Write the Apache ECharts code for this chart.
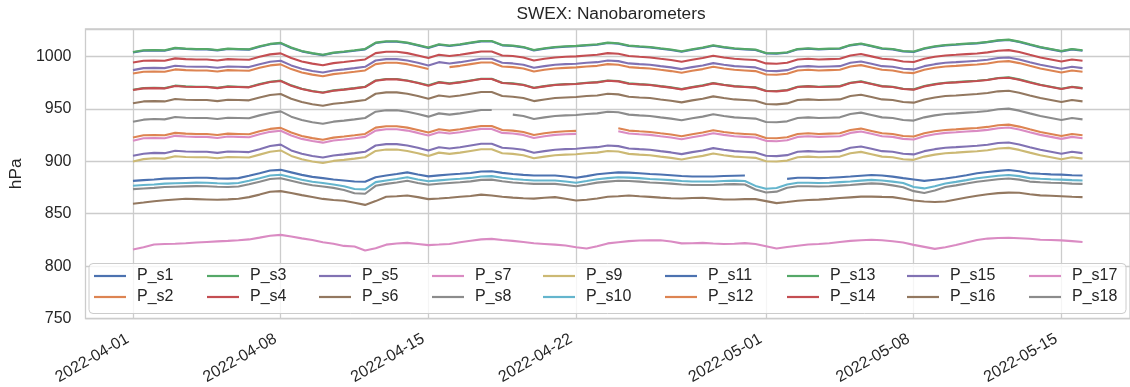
<!DOCTYPE html>
<html>
<head>
<meta charset="utf-8">
<script src="https://cdn.jsdelivr.net/npm/echarts@6/dist/echarts.min.js"></script>
<style>
html,body{margin:0;padding:0;background:#fff;}
#chart{width:1130px;height:387px;}
</style>
</head>
<body>
<div id="chart"></div>
<script>
// ---- DATA (12-hourly samples, starting 2022-04-01 00:00 UTC) ----
const startDate = '2022-04-01';
const sampleHours = 12;
const xTickLabels = ['2022-04-01','2022-04-08','2022-04-15','2022-04-22','2022-05-01','2022-05-08','2022-05-15'];
const yTickValues = [750, 800, 850, 900, 950, 1000];
const seriesNames = ['P_s1','P_s2','P_s3','P_s4','P_s5','P_s6','P_s7','P_s8','P_s9','P_s10','P_s11','P_s12','P_s13','P_s14','P_s15','P_s16','P_s17','P_s18'];

const P_s1 = [881.3,882.0,882.6,883.4,883.7,884.0,884.3,884.2,883.7,883.4,
 883.9,886.1,888.5,891.1,891.8,889.4,887.0,885.1,883.9,882.6,
 881.7,880.7,880.4,884.8,886.4,887.8,889.4,887.3,885.6,886.5,
 887.3,888.0,888.8,890.2,890.5,888.9,887.8,887.0,886.4,886.4,
 886.4,885.4,884.2,885.8,887.6,888.6,889.4,889.1,888.6,887.8,
 887.3,886.7,885.9,885.4,885.4,885.4,885.9,886.2,886.4,null,
 null,null,883.2,884.2,884.2,883.9,884.2,884.8,885.4,886.2,
 886.9,886.4,885.3,883.9,882.6,881.3,882.4,883.5,885.0,886.7,
 888.5,889.7,890.8,891.6,890.5,888.6,888.0,887.5,887.2,886.7,
 886.4];
const P_s2 = [983.6,985.2,985.5,985.2,987.5,986.8,986.5,986.5,985.5,986.8,
 986.5,986.2,989.0,991.3,992.3,987.8,984.6,982.5,981.0,983.0,
 984.0,985.2,986.5,992.5,993.8,993.8,992.5,990.3,987.8,null,
 989.7,990.9,992.5,994.1,994.1,990.3,989.7,988.4,985.5,987.1,
 988.4,989.0,989.4,990.3,990.9,992.5,991.9,989.7,989.0,988.4,
 987.1,985.9,984.3,986.2,987.8,990.0,988.4,987.1,986.5,985.9,
 982.7,982.4,983.3,986.5,987.1,986.5,986.8,987.1,990.3,991.6,
 989.4,987.1,986.5,984.6,984.0,987.1,989.0,990.3,990.9,991.6,
 992.2,993.2,994.8,995.4,993.5,990.9,988.4,986.5,984.6,986.5,
 985.2];
const P_s3 = [968.1,969.7,970.0,969.7,972.0,971.3,971.0,971.0,970.0,971.3,
 971.0,970.7,973.5,975.8,976.8,972.3,969.1,967.0,965.5,967.5,
 968.5,969.7,971.0,977.0,978.3,978.3,977.0,974.8,972.3,975.4,
 974.2,975.4,977.0,978.6,978.6,974.8,974.2,972.9,970.0,971.6,
 972.9,973.5,973.9,974.8,975.4,977.0,976.4,974.2,973.5,972.9,
 971.6,970.4,968.8,970.7,972.3,974.5,972.9,971.6,971.0,970.4,
 967.2,966.9,967.8,971.0,971.6,971.0,971.3,971.6,974.8,976.1,
 973.9,971.6,971.0,969.1,968.5,971.6,973.5,974.8,975.4,976.1,
 976.7,977.7,979.3,979.9,978.0,975.4,972.9,971.0,969.1,971.0,
 969.7];
const P_s4 = [994.1,995.7,996.0,995.7,998.0,997.3,997.0,997.0,996.0,997.3,
 997.0,996.7,999.5,1001.8,1002.8,998.3,995.1,993.0,991.5,993.5,
 994.5,995.7,997.0,1003.0,1004.3,1004.3,1003.0,1000.8,998.3,1001.4,
 1000.2,1001.4,1003.0,1004.6,1004.6,1000.8,1000.2,998.9,996.0,997.6,
 998.9,999.5,999.9,1000.8,1001.4,1003.0,1002.4,1000.2,999.5,998.9,
 997.6,996.4,994.8,996.7,998.3,1000.5,998.9,997.6,997.0,996.4,
 993.2,992.9,993.8,997.0,997.6,997.0,997.3,997.6,1000.8,1002.1,
 999.9,997.6,997.0,995.1,994.5,997.6,999.5,1000.8,1001.4,1002.1,
 1002.7,1003.7,1005.3,1005.9,1004.0,1001.4,998.9,997.0,995.1,997.0,
 995.7];
const P_s5 = [986.8,988.7,989.0,988.7,991.0,990.3,990.0,990.0,989.0,990.3,
 990.0,989.7,992.5,994.8,995.8,991.3,988.1,986.0,984.5,986.5,
 987.5,988.7,990.0,996.0,997.3,997.3,996.0,993.8,991.3,994.4,
 993.2,994.4,996.0,997.6,997.6,993.8,993.2,991.9,989.0,990.6,
 991.9,992.5,992.9,993.8,994.4,996.0,995.4,993.2,992.5,991.9,
 990.6,989.4,987.8,989.7,991.3,993.5,991.9,990.6,990.0,989.4,
 986.2,985.9,986.8,990.0,990.6,990.0,990.3,990.6,993.8,995.1,
 992.9,990.6,990.0,988.1,987.5,990.6,992.5,993.8,994.4,995.1,
 995.7,996.7,998.3,998.9,997.0,994.4,991.9,990.0,988.1,990.0,
 988.7];
const P_s6 = [955.2,957.0,957.3,957.0,959.3,958.6,958.3,958.3,957.3,958.6,
 958.3,958.0,960.8,963.1,964.1,959.6,956.4,954.3,952.8,954.8,
 955.8,957.0,958.3,964.3,965.6,965.6,964.3,962.1,959.6,962.7,
 961.5,962.7,964.3,965.9,965.9,962.1,961.5,960.2,957.3,958.9,
 960.2,960.8,961.2,962.1,962.7,964.3,963.7,961.5,960.8,960.2,
 958.9,957.7,956.1,958.0,959.6,961.8,960.2,958.9,958.3,957.7,
 954.5,954.2,955.1,958.3,958.9,958.3,958.6,958.9,962.1,963.4,
 961.2,958.9,958.3,956.4,955.8,958.9,960.8,962.1,962.7,963.4,
 964.0,965.0,966.6,967.2,965.3,962.7,960.2,958.3,956.4,958.3,
 957.0];
const P_s7 = [919.6,921.9,922.2,921.9,924.2,923.5,923.2,923.2,922.2,923.5,
 923.2,922.9,925.7,928.0,929.0,924.5,921.3,919.2,917.7,919.7,
 920.7,921.9,923.2,929.2,930.5,930.5,929.2,927.0,924.5,927.6,
 926.4,927.6,929.2,930.8,930.8,927.0,926.4,925.1,922.2,923.8,
 925.1,925.7,926.1,null,null,null,928.6,926.4,925.7,925.1,
 923.8,922.6,921.0,922.9,924.5,926.7,925.1,923.8,923.2,922.6,
 919.4,919.1,920.0,923.2,923.8,923.2,923.5,923.8,927.0,928.3,
 926.1,923.8,923.2,921.3,920.7,923.8,925.7,927.0,927.6,928.3,
 928.9,929.9,931.5,932.1,930.2,927.6,925.1,923.2,921.3,923.2,
 921.9];
const P_s8 = [937.6,939.6,940.2,939.9,942.2,941.5,941.2,941.2,940.2,941.5,
 941.2,940.9,943.7,946.0,947.5,942.5,939.3,937.2,935.7,937.7,
 938.7,939.9,941.2,947.2,948.5,948.5,947.2,945.0,942.5,945.6,
 944.4,945.6,947.2,948.8,948.8,null,944.4,943.1,940.2,941.8,
 943.1,943.7,944.1,945.0,945.6,947.2,946.6,944.4,943.7,943.1,
 941.8,940.6,939.0,940.9,942.5,944.7,943.1,941.8,941.2,940.6,
 937.4,937.1,938.0,941.2,941.8,941.2,941.5,941.8,945.0,946.3,
 944.1,941.8,941.2,939.3,938.7,941.8,943.7,945.0,945.6,946.3,
 946.9,947.9,949.5,950.1,948.2,945.6,943.1,941.2,939.3,941.2,
 939.9];
const P_s9 = [899.8,902.0,902.8,902.5,904.8,904.1,903.8,903.8,902.8,904.1,
 903.8,903.5,906.3,909.0,910.3,905.1,901.9,899.8,898.3,900.3,
 901.3,902.5,903.8,909.8,911.1,911.1,909.8,907.6,905.1,908.2,
 907.0,908.2,909.8,911.4,911.4,907.6,907.0,905.7,902.8,904.4,
 905.7,906.3,906.7,907.6,908.2,909.8,909.2,907.0,906.3,905.7,
 904.4,903.2,901.6,903.5,905.1,907.3,905.7,904.4,903.8,903.2,
 900.0,899.7,900.6,903.8,904.4,903.8,904.1,904.4,907.6,908.9,
 906.7,904.4,903.8,901.9,901.3,904.4,906.3,907.6,908.2,908.9,
 909.5,910.5,912.1,912.7,910.8,908.2,905.7,903.8,901.9,903.8,
 902.5];
const P_s10 = [876.6,877.3,877.9,878.7,879.0,879.3,879.6,879.5,879.0,878.7,
 879.2,881.4,883.8,886.4,887.1,884.7,882.3,880.4,879.2,877.9,
 876.2,873.5,873.2,880.1,881.7,883.1,884.7,882.6,880.9,881.8,
 882.6,883.3,884.1,885.5,885.8,884.2,883.1,882.3,881.7,881.7,
 881.7,880.7,879.5,881.1,882.9,883.9,884.7,884.4,883.9,883.1,
 882.6,882.0,881.2,880.7,880.7,880.7,881.2,881.5,881.2,876.5,
 873.8,874.5,877.8,879.5,879.5,879.2,879.5,880.1,880.7,881.5,
 882.2,881.7,880.6,879.2,875.4,874.1,876.2,878.8,880.3,882.0,
 883.8,885.0,886.1,886.9,885.8,883.9,883.3,882.8,882.5,882.0,
 881.7];
const P_s11 = [1003.7,1005.3,1005.6,1005.3,1007.6,1006.9,1006.6,1006.6,1005.6,1006.9,
 1006.6,1006.3,1009.1,1011.4,1012.4,1007.9,1004.7,1002.6,1001.1,1003.1,
 1004.1,1005.3,1006.6,1012.6,1013.9,1013.9,1012.6,1010.4,1007.9,1011.0,
 1009.8,1011.0,1012.6,1014.2,1014.2,1010.4,1009.8,1008.5,1005.6,1007.2,
 1008.5,1009.1,1009.5,1010.4,1011.0,1012.6,1012.0,1009.8,1009.1,1008.5,
 1007.2,1006.0,1004.4,1006.3,1007.9,1010.1,1008.5,1007.2,1006.6,1006.0,
 1002.8,1002.5,1003.4,1006.6,1007.2,1006.6,1006.9,1007.2,1010.4,1011.7,
 1009.5,1007.2,1006.6,1004.7,1004.1,1007.2,1009.1,1010.4,1011.0,1011.7,
 1012.3,1013.3,1014.9,1015.5,1013.6,1011.0,1008.5,1006.6,1004.7,1006.6,
 1005.3];
const P_s12 = [922.7,924.7,925.0,924.7,927.0,926.3,926.0,926.0,925.0,926.3,
 926.0,925.7,928.5,930.8,931.8,927.3,924.1,922.0,920.5,922.5,
 923.5,924.7,926.0,932.0,933.3,933.3,932.0,929.8,927.3,930.4,
 929.2,930.4,932.0,933.6,933.6,929.8,929.2,927.9,925.0,926.6,
 927.9,928.5,928.9,null,null,null,931.4,929.2,928.5,927.9,
 926.6,925.4,923.8,925.7,927.3,929.5,927.9,926.6,926.0,925.4,
 922.2,921.9,922.8,926.0,926.6,926.0,926.3,926.6,929.8,931.1,
 928.9,926.6,926.0,924.1,923.5,926.6,928.5,929.8,930.4,931.1,
 931.7,932.7,934.3,934.9,933.0,930.4,927.9,926.0,924.1,926.0,
 924.7];
const P_s13 = [1004.1,1005.7,1006.0,1005.7,1008.0,1007.3,1007.0,1007.0,1006.0,1007.3,
 1007.0,1006.7,1009.5,1011.8,1012.8,1008.3,1005.1,1003.0,1001.5,1003.5,
 1004.5,1005.7,1007.0,1013.0,1014.3,1014.3,1013.0,1010.8,1008.3,1011.4,
 1010.2,1011.4,1013.0,1014.6,1014.6,1010.8,1010.2,1008.9,1006.0,1007.6,
 1008.9,1009.5,1009.9,1010.8,1011.4,1013.0,1012.4,1010.2,1009.5,1008.9,
 1007.6,1006.4,1004.8,1006.7,1008.3,1010.5,1008.9,1007.6,1007.0,1006.4,
 1003.2,1002.9,1003.8,1007.0,1007.6,1007.0,1007.3,1007.6,1010.8,1012.1,
 1009.9,1007.6,1007.0,1005.1,1004.5,1007.6,1009.5,1010.8,1011.4,1012.1,
 1012.7,1013.7,1015.3,1015.9,1014.0,1011.4,1008.9,1007.0,1005.1,1007.0,
 1005.7];
const P_s14 = [967.8,969.4,969.7,969.4,971.7,971.0,970.7,970.7,969.7,971.0,
 970.7,970.4,973.2,975.5,976.5,972.0,968.8,966.7,965.2,967.2,
 968.2,969.4,970.7,976.7,978.0,978.0,976.7,974.5,972.0,975.1,
 973.9,975.1,976.7,978.3,978.3,974.5,973.9,972.6,969.7,971.3,
 972.6,973.2,973.6,974.5,975.1,976.7,976.1,973.9,973.2,972.6,
 971.3,970.1,968.5,970.4,972.0,974.2,972.6,971.3,970.7,970.1,
 966.9,966.6,967.5,970.7,971.3,970.7,971.0,971.3,974.5,975.8,
 973.6,971.3,970.7,968.8,968.2,971.3,973.2,974.5,975.1,975.8,
 976.4,977.4,979.0,979.6,977.7,975.1,972.6,970.7,968.8,970.7,
 969.4];
const P_s15 = [905.3,907.2,908.0,907.7,910.0,909.3,909.0,909.0,908.0,909.3,
 909.0,908.7,911.5,914.5,915.8,910.3,907.1,905.0,903.5,905.5,
 906.5,907.7,909.0,915.0,916.3,916.3,915.0,912.8,910.3,913.4,
 912.2,913.4,915.0,916.6,916.6,912.8,912.2,910.9,908.0,909.6,
 910.9,911.5,911.9,912.8,913.4,915.0,914.4,912.2,911.5,910.9,
 909.6,908.4,906.8,908.7,910.3,912.5,910.9,909.6,909.0,908.4,
 905.2,904.9,905.8,909.0,909.6,909.0,909.3,909.6,912.8,914.1,
 911.9,909.6,909.0,907.1,906.5,909.6,911.5,912.8,913.4,914.1,
 914.7,915.7,917.3,917.9,916.0,913.4,910.9,909.0,907.1,909.0,
 907.7];
const P_s16 = [859.5,860.6,861.9,862.8,863.6,864.2,863.9,863.6,863.3,863.7,
 864.2,865.8,868.2,870.9,871.5,869.8,867.7,866.0,864.1,863.1,
 862.3,860.4,858.4,862.0,866.1,866.7,867.4,865.8,863.9,864.5,
 865.2,866.1,866.9,868.2,867.4,866.1,865.3,864.7,864.4,865.2,
 865.8,864.2,862.6,863.3,864.5,866.1,866.7,867.4,866.6,866.0,
 865.3,864.7,864.5,864.9,865.2,864.4,863.6,863.6,863.9,863.9,
 862.0,860.1,861.1,862.3,863.0,863.4,864.1,864.9,865.6,866.3,
 866.3,866.0,865.8,864.2,862.6,861.7,861.2,861.7,863.6,865.5,
 867.1,868.5,869.6,870.1,869.9,868.6,867.5,867.1,866.6,866.1,
 865.8];
const P_s17 = [815.9,818.1,820.6,821.1,821.4,821.9,822.5,823.1,823.6,824.1,
 824.7,825.5,827.2,829.0,829.8,828.2,826.5,824.9,822.8,821.4,
 819.3,818.7,815.0,817.1,820.5,821.6,822.2,821.2,820.1,820.6,
 821.2,822.8,824.2,825.5,826.0,825.0,824.1,823.0,821.9,821.2,
 820.5,819.7,818.1,816.8,819.0,821.7,822.8,823.9,824.4,824.6,
 824.7,823.5,821.7,821.9,822.2,821.6,821.1,821.4,822.0,821.2,
 819.0,816.8,818.2,819.5,820.6,821.2,821.9,823.1,824.1,824.7,
 825.2,824.7,823.8,822.5,820.3,818.4,816.5,818.1,820.1,822.5,
 824.9,826.3,826.8,827.1,826.6,826.1,825.2,824.9,824.6,823.9,
 823.1];
const P_s18 = [873.4,874.0,874.6,875.4,875.7,876.0,876.3,876.2,875.7,875.4,
 875.9,878.1,880.5,883.1,883.8,881.4,879.0,877.1,875.9,874.6,
 872.5,869.5,869.0,876.6,878.4,879.8,881.4,879.3,877.6,878.5,
 879.3,880.0,880.8,882.2,882.5,880.9,879.8,879.0,878.4,878.4,
 878.4,877.4,876.2,877.8,879.6,880.6,881.4,881.1,880.6,879.8,
 879.3,878.7,877.9,877.4,877.4,877.4,877.9,878.2,877.8,873.0,
 870.2,871.0,874.8,876.2,876.2,875.9,876.2,876.8,877.4,878.2,
 878.9,878.4,877.0,875.2,871.5,869.8,872.2,875.5,877.0,878.7,
 880.5,881.7,882.8,883.6,882.5,880.6,880.0,879.5,879.2,878.7,
 878.4];

const seriesValues = [P_s1,P_s2,P_s3,P_s4,P_s5,P_s6,P_s7,P_s8,P_s9,P_s10,P_s11,P_s12,P_s13,P_s14,P_s15,P_s16,P_s17,P_s18];

// ---- STYLE ----
const palette = ['#4c72b0','#dd8452','#55a868','#c44e52','#8172b3','#937860','#da8bc3','#8c8c8c','#ccb974','#64b5cd'];
const ink = '#262626';
const gridColor = '#cccccc';
const FONT = '"Liberation Sans", Arial, sans-serif';

const t0 = Date.parse(startDate + 'T00:00:00Z');
const nSamples = seriesValues[0].length;
const times = [];
for (let i = 0; i < nSamples; i++) times.push(t0 + i * sampleHours * 3600e3);
const tEnd = times[times.length - 1];
const pad = (tEnd - t0) * 0.05;
const tickTimes = xTickLabels.map(s => Date.parse(s + 'T00:00:00Z'));

const series = seriesNames.map((name, k) => ({
  name: name,
  type: 'line',
  data: seriesValues[k].map((v, i) => [times[i], v]),
  symbol: 'none',
  showSymbol: false,
  connectNulls: false,
  lineStyle: { width: 2.1, color: palette[k % 10] },
  itemStyle: { color: palette[k % 10] },
  z: 2,
  animation: false
}));

const legendCols = [94, 207, 319, 432, 543, 665, 787, 907, 1029];
const legends = legendCols.map((x, c) => ({
  orient: 'vertical',
  left: x,
  top: 268,
  padding: 0,
  icon: 'rect',
  itemWidth: 32,
  itemHeight: 2.2,
  itemGap: 5,
  selectedMode: false,
  data: [seriesNames[2 * c], seriesNames[2 * c + 1]],
  textStyle: { fontSize: 16, color: ink, fontFamily: FONT, lineHeight: 16, padding: [0, 0, 0, 6] },
  z: 5
}));

const chart = echarts.init(document.getElementById('chart'), null, { renderer: 'canvas' });
chart.setOption({
  animation: false,
  backgroundColor: '#ffffff',
  textStyle: { fontFamily: FONT, color: ink },
  title: {
    text: 'SWEX: Nanobarometers',
    left: 611,
    top: 6,
    padding: 0,
    textAlign: 'center',
    textStyle: { fontSize: 17.3, fontWeight: 'normal', color: ink, fontFamily: FONT }
  },
  grid: {
    left: 80, right: -11, top: 29, bottom: 67,
    show: true, borderColor: gridColor, borderWidth: 1.3, backgroundColor: 'transparent'
  },
  xAxis: {
    type: 'value',
    min: t0 - pad,
    max: tEnd + pad,
    axisLine: { show: false },
    axisTick: { show: false, customValues: tickTimes },
    axisLabel: {
      customValues: tickTimes,
      rotate: 30,
      fontSize: 16,
      color: ink,
      fontFamily: FONT,
      margin: 16,
      padding: [0, 6, 0, 0],
      formatter: function (v) {
        const i = tickTimes.indexOf(v);
        return i >= 0 ? xTickLabels[i] : '';
      }
    },
    splitLine: { show: true, lineStyle: { color: gridColor, width: 1.3 } }
  },
  yAxis: {
    type: 'value',
    min: yTickValues[0],
    max: 1026,
    interval: 50,
    name: 'hPa',
    nameLocation: 'middle',
    nameGap: 53,
    nameTextStyle: { fontSize: 17.3, color: ink, fontFamily: FONT },
    axisLine: { show: false },
    axisTick: { show: false },
    axisLabel: {
      fontSize: 16, color: ink, fontFamily: FONT, margin: 14,
      formatter: function (v) { return yTickValues.indexOf(v) >= 0 ? String(v) : ''; }
    },
    splitLine: { show: true, lineStyle: { color: gridColor, width: 1.3 } }
  },
  legend: legends,
  graphic: [{
    type: 'rect',
    left: 88.5, top: 263,
    shape: { width: 1037, height: 50, r: 4 },
    style: { fill: 'rgba(255,255,255,0.8)', stroke: '#cccccc', lineWidth: 1 },
    z: 3
  }],
  series: series
});
</script>
</body>
</html>
